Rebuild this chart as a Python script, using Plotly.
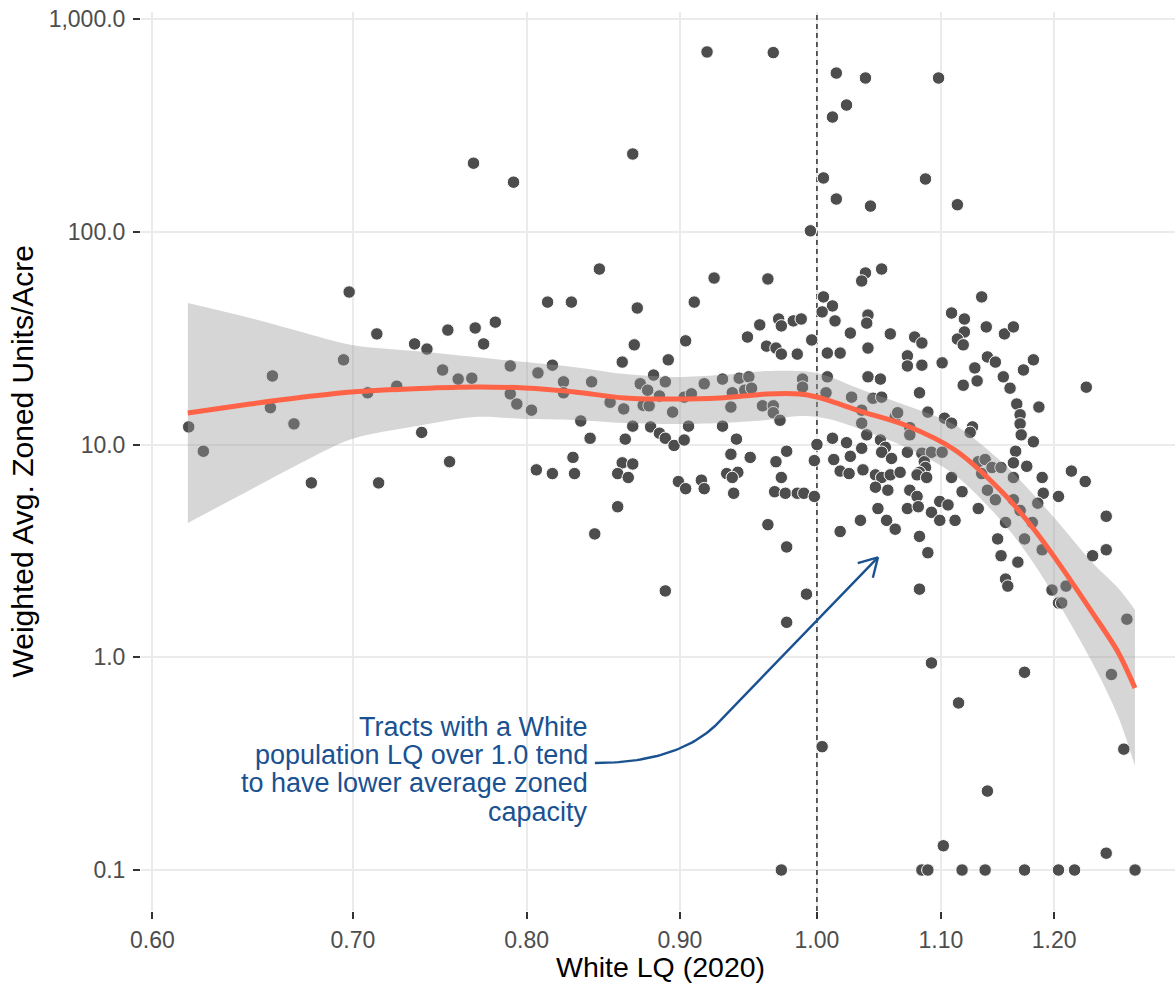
import math
import numpy as np
import plotly.graph_objects as go

# ---------------- data ----------------
white_lq = [
    0.698, 0.768, 0.792, 0.868, 0.919, 0.967, 1.005, 0.995, 0.846, 0.924, 0.963, 0.813, 0.828, 0.910, 1.005,
    1.015, 1.038, 1.098, 1.023, 1.012, 1.015, 1.042, 1.087, 1.114, 1.038, 1.035, 1.051, 1.135,
    0.713, 0.753, 0.769, 0.734, 0.741, 0.695, 0.658, 0.750, 0.759, 0.767, 0.708, 0.724, 0.657, 0.669,
    0.617, 0.624, 0.738, 0.754, 0.678, 0.714,
    0.781, 0.774, 0.871, 0.869, 0.904, 0.861, 0.892, 0.816, 0.790, 0.807, 0.823, 0.841, 0.873, 0.882,
    0.890, 0.878, 0.886, 0.823, 0.790, 0.794, 0.803, 0.853, 0.862, 0.875, 0.879, 0.895, 0.903, 0.908,
    0.917, 0.834, 0.868, 0.880, 0.906, 0.886, 0.890, 0.896, 0.903, 0.840, 0.863, 0.829, 0.806, 0.816,
    0.830, 0.861, 0.868, 0.858, 0.865, 0.899, 0.904, 0.915, 0.917, 0.858, 0.843,
    1.012, 1.004, 1.014, 0.971, 0.973, 0.982, 0.988, 0.957, 0.948, 0.996, 1.026, 0.962, 0.969, 0.973,
    0.985, 1.008, 1.018, 0.930, 0.942, 0.949, 0.937, 0.946, 0.951, 0.936, 0.959, 0.967, 0.967, 0.972,
    0.989, 0.989, 1.008, 1.007, 1.027, 1.035, 0.930, 0.940, 0.936, 0.950, 0.977, 1.000, 1.012, 1.023,
    0.969, 0.998, 1.013, 1.026, 1.018, 1.025, 0.933, 0.941, 0.937, 0.973, 0.938, 0.968, 0.976, 0.985,
    0.990, 0.998, 0.963, 1.018, 0.977, 1.034,
    1.040, 1.039, 1.058, 1.078, 1.084, 1.109, 1.120, 1.139, 1.120, 1.114, 1.119, 1.155, 1.040, 1.072,
    1.072, 1.084, 1.101, 1.140, 1.147, 1.129, 1.131, 1.119, 1.154, 1.040, 1.050, 1.082, 1.044, 1.051,
    1.062, 1.064, 1.089, 1.103, 1.109, 1.127, 1.125, 1.035, 1.074, 1.074, 1.039, 1.050, 1.054, 1.051,
    1.035, 1.059, 1.072, 1.084, 1.092, 1.101, 1.086, 1.087, 1.082, 1.080, 1.088, 1.036, 1.046, 1.051,
    1.058, 1.066, 1.056, 1.046, 1.074, 1.080, 1.109, 1.118, 1.132, 1.138, 1.135, 1.144, 1.152, 1.140,
    1.147, 1.048, 1.055, 1.062, 1.072, 1.081, 1.092, 1.099, 1.106, 1.099, 1.112, 1.132, 1.082, 1.089,
    1.149, 1.152,
    1.163, 1.181, 1.172, 1.160, 1.230, 1.166, 1.186, 1.169, 1.169, 1.170, 1.181, 1.165, 1.163, 1.175,
    1.163, 1.189, 1.216, 1.229, 1.190, 1.185, 1.204, 1.163, 1.169, 1.156, 1.180, 1.173, 1.189, 1.249,
    1.249, 1.236, 1.167,
    0.890, 0.992, 0.977, 1.004, 0.973,
    1.156, 1.158, 1.082, 1.198, 1.211, 1.204, 1.207, 1.269, 1.254, 1.092, 1.173, 1.115, 1.266, 1.140,
    1.102, 1.249,
    1.084, 1.089, 1.118, 1.138, 1.173, 1.204, 1.219, 1.277,
]

zoned_units_per_acre = [
    52.1, 210, 171, 232, 700, 695, 179, 101, 66.8, 60.6, 60.0, 46.7, 46.7, 46.7, 49.4,
    557, 528, 528, 394, 346, 142.5, 132, 177, 134, 64.0, 58.7, 66.8, 49.4,
    33.1, 34.5, 35.3, 29.7, 28.1, 25.0, 21.0, 22.4, 20.3, 20.5, 17.5, 18.8, 14.9, 12.5,
    12.1, 9.3, 11.4, 8.3, 6.6, 6.6,
    37.6, 29.7, 43.8, 29.4, 30.7, 24.4, 25.0, 23.6, 23.4, 21.7, 19.7, 19.7, 19.3, 21.2,
    19.7, 18.0, 16.9, 17.5, 17.3, 15.5, 14.5, 15.8, 14.7, 15.3, 15.2, 14.2, 16.7, 17.3,
    19.3, 12.9, 12.2, 12.1, 12.2, 11.3, 10.7, 9.9, 10.5, 10.7, 10.6, 8.7, 7.6, 7.3,
    7.3, 8.2, 8.1, 7.3, 7.0, 6.7, 6.2, 6.8, 6.2, 5.1, 3.8,
    44.8, 42.0, 38.1, 38.9, 36.1, 38.1, 38.9, 36.5, 32.0, 31.0, 33.4, 29.0, 28.4, 26.6,
    26.6, 26.9, 26.9, 20.3, 20.5, 20.8, 17.5, 18.0, 18.4, 15.0, 15.2, 15.2, 14.1, 13.0,
    20.3, 18.6, 20.8, 17.5, 16.7, 12.6, 12.2, 10.6, 9.0, 8.7, 9.3, 10.0, 10.7, 10.2,
    8.3, 8.4, 8.5, 8.8, 7.5, 7.3, 7.3, 7.4, 7.0, 7.0, 5.9, 6.0, 5.9, 5.9,
    5.9, 5.7, 4.2, 3.9, 3.3, 4.4,
    40.6, 37.2, 33.1, 32.0, 30.0, 41.5, 38.9, 35.7, 33.8, 31.3, 29.4, 33.1, 28.4, 26.1,
    23.4, 23.6, 24.2, 25.8, 24.4, 22.9, 19.9, 19.0, 20.8, 20.8, 20.3, 17.5, 16.5, 16.7,
    13.5, 14.1, 14.2, 13.3, 12.6, 12.1, 11.4, 14.5, 12.0, 11.1, 11.1, 10.5, 9.7, 9.2,
    9.6, 8.6, 9.2, 9.1, 9.2, 9.2, 8.3, 7.8, 7.4, 7.2, 7.0, 7.6, 7.2, 7.0,
    7.2, 7.4, 6.1, 6.3, 6.1, 5.7, 7.0, 6.0, 8.3, 8.5, 7.3, 7.8, 7.8, 6.1,
    5.5, 5.0, 4.4, 4.0, 5.0, 5.1, 4.8, 5.4, 5.2, 4.4, 4.4, 5.0, 3.7, 3.1,
    3.6, 3.0,
    35.7, 25.0, 22.4, 18.4, 18.6, 15.5, 15.0, 13.8, 12.5, 11.1, 10.3, 9.3, 8.2, 7.9,
    7.0, 7.0, 7.5, 6.7, 5.9, 5.3, 5.7, 5.5, 4.9, 4.3, 4.3, 3.6, 3.2, 4.6,
    3.2, 3.0, 2.8,
    2.05, 1.98, 1.46, 0.38, 0.1,
    2.33, 2.16, 2.09, 2.07, 2.16, 1.80, 1.80, 1.51, 0.83, 0.94, 0.85, 0.61, 0.37, 0.235,
    0.13, 0.12,
    0.1, 0.1, 0.1, 0.1, 0.1, 0.1, 0.1, 0.1,
]

# loess smooth
smooth_x = [0.6166, 0.6468, 0.6721, 0.6995, 0.7370, 0.7689, 0.7990, 0.8303, 0.8628, 0.8966, 0.9282,
            0.9623, 0.9870, 1.0000, 1.0124, 1.0336, 1.0700, 1.1119, 1.1555, 1.1806, 1.2035, 1.2354,
            1.2603, 1.2769]
smooth_fit = [14.06, 15.50, 16.63, 17.65, 18.33, 18.63, 18.43, 17.65, 16.55, 16.36, 16.55,
              17.28, 17.28, 16.72, 15.85, 14.37, 12.35, 9.42, 5.79, 4.05, 2.80, 1.63,
              1.059, 0.717]
smooth_hi = [46.2, 39.3, 33.97, 29.36, 27.36, 25.8, 24.4, 23.1, 21.45, 20.77, 21.22,
             22.16, 22.16, 21.68, 20.54, 18.24, 15.34, 12.35, 8.01, 5.85, 4.32, 2.80,
             2.12, 1.67]
smooth_lo = [4.28, 6.11, 8.14, 10.61, 12.28, 13.47, 13.18, 13.04, 12.62, 12.49, 12.62,
             13.04, 13.61, 13.47, 13.04, 11.83, 9.73, 7.19, 4.18, 2.80, 1.82, 0.950,
             0.530, 0.308]

x_tickvals = [0.6, 0.7, 0.8, 0.9, 1.0, 1.1, 1.2]
x_ticktext = ["0.60", "0.70", "0.80", "0.90", "1.00", "1.10", "1.20"]
y_tickvals = [1000, 100, 10, 1, 0.1]
y_ticktext = ["1,000.0", "100.0", "10.0", "1.0", "0.1"]

x_title = "White LQ (2020)"
y_title = "Weighted Avg. Zoned Units/Acre"
note_lines = ["Tracts with a White", "population LQ over 1.0 tend",
              "to have lower average zoned", "capacity"]
reference_lq = 1.0

# arrow anchor points (data units)
arrow_tail = (0.8431, 0.3184)
arrow_bend = (0.8966, 0.3184)
arrow_join = (0.9246, 0.4751)
arrow_tip = (1.0480, 2.950)

# ---------------- style ----------------
FONT = "Liberation Sans, Arial, Helvetica, sans-serif"
BLUE = "#1a5190"
x_range = [0.5948, 1.3168]
y_range = [0.06418, 1078.7]
W, H = 1175, 984
M_L, M_R, M_T, M_B = 141, 0, 12, 73
PW, PH = W - M_L - M_R, H - M_T - M_B

lxr = [math.log10(v) for v in x_range]
lyr = [math.log10(v) for v in y_range]
kx = PW / (lxr[1] - lxr[0])
ky = PH / (lyr[1] - lyr[0])

fig = go.Figure()

# dashed reference line at LQ = 1
fig.add_trace(go.Scatter(x=[reference_lq, reference_lq], y=y_range, mode="lines",
                         line=dict(color="#222222", width=1.4, dash="5px,4px"),
                         hoverinfo="skip"))

# points
fig.add_trace(go.Scatter(
    x=white_lq, y=zoned_units_per_acre, mode="markers",
    marker=dict(size=12.5, color="#4d4d4d", line=dict(color="white", width=1)),
    hoverinfo="skip"))

# confidence band
fig.add_trace(go.Scatter(x=smooth_x, y=smooth_lo, mode="lines",
                         line=dict(width=0, shape="spline", smoothing=0.9),
                         hoverinfo="skip"))
fig.add_trace(go.Scatter(x=smooth_x, y=smooth_hi, mode="lines",
                         line=dict(width=0, shape="spline", smoothing=0.9),
                         fill="tonexty", fillcolor="rgba(153,153,153,0.4)",
                         hoverinfo="skip"))
# fitted line
fig.add_trace(go.Scatter(x=smooth_x, y=smooth_fit, mode="lines",
                         line=dict(color="#FF6347", width=5, shape="spline", smoothing=0.9),
                         hoverinfo="skip"))

# curved arrow (computed in log space, i.e. linear screen space)
L = lambda p: (math.log10(p[0]), math.log10(p[1]))
p0, p1, p2, p3 = L(arrow_tail), L(arrow_bend), L(arrow_join), L(arrow_tip)
ts = np.linspace(0, 1, 40)
cx = [(1 - t) ** 2 * p0[0] + 2 * (1 - t) * t * p1[0] + t ** 2 * p2[0] for t in ts] + [p3[0]]
cy = [(1 - t) ** 2 * p0[1] + 2 * (1 - t) * t * p1[1] + t ** 2 * p2[1] for t in ts] + [p3[1]]
dxp = (p2[0] - p3[0]) * kx
dyp = (p2[1] - p3[1]) * ky
nrm = math.hypot(dxp, dyp)
ux, uy = dxp / nrm, dyp / nrm
head_len, head_ang = 21, math.radians(30)
hx, hy = [], []
for s in (1, -1):
    c, sn = math.cos(s * head_ang), math.sin(s * head_ang)
    rx, ry = ux * c - uy * sn, ux * sn + uy * c
    hx += [p3[0] + rx * head_len / kx, p3[0], None]
    hy += [p3[1] + ry * head_len / ky, p3[1], None]
ax_all = cx + [None] + hx
ay_all = cy + [None] + hy
fig.add_trace(go.Scatter(
    x=[None if v is None else 10 ** v for v in ax_all],
    y=[None if v is None else 10 ** v for v in ay_all],
    mode="lines", line=dict(color=BLUE, width=2.4), hoverinfo="skip"))

# annotation text lines
first_baseline, line_step = 737.0, 28.2
for i, txt in enumerate(note_lines):
    cpx = first_baseline + i * line_step - 10
    fig.add_annotation(text=txt, xref="paper", yref="paper",
                       x=(590 - M_L) / PW, y=(M_T + PH - cpx) / PH,
                       xanchor="right", yanchor="middle", showarrow=False,
                       align="right", font=dict(family=FONT, size=27, color=BLUE))

# axis titles
fig.add_annotation(text=x_title, xref="paper", yref="paper",
                   x=(660 - M_L) / PW, y=-(967 - (M_T + PH)) / PH,
                   xanchor="center", yanchor="middle", showarrow=False,
                   font=dict(family=FONT, size=28.5, color="black"))
fig.add_annotation(text=y_title, xref="paper", yref="paper",
                   x=(22 - M_L) / PW, y=0.5, textangle=-90,
                   xanchor="center", yanchor="middle", showarrow=False,
                   font=dict(family=FONT, size=30, color="black"))

axis_common = dict(type="log", showgrid=True, gridcolor="#ebebeb", gridwidth=2,
                   zeroline=False, showline=False, ticks="outside", ticklen=7,
                   tickwidth=2, tickcolor="#333333",
                   tickfont=dict(family=FONT, size=23, color="#4d4d4d"))

fig.update_layout(
    width=W, height=H,
    margin=dict(l=M_L, r=M_R, t=M_T, b=M_B, pad=0),
    plot_bgcolor="white", paper_bgcolor="white",
    showlegend=False,
    font=dict(family=FONT),
    xaxis=dict(range=lxr, tickvals=x_tickvals, ticktext=x_ticktext,
               ticklabelstandoff=1, **axis_common),
    yaxis=dict(range=lyr, tickvals=y_tickvals, ticktext=y_ticktext,
               ticklabelstandoff=3, **axis_common),
)

fig.write_html("out.html", include_plotlyjs=True, full_html=True,
               config={"displayModeBar": False},
               post_script="document.body.style.margin='0';document.body.style.overflow='hidden';")
